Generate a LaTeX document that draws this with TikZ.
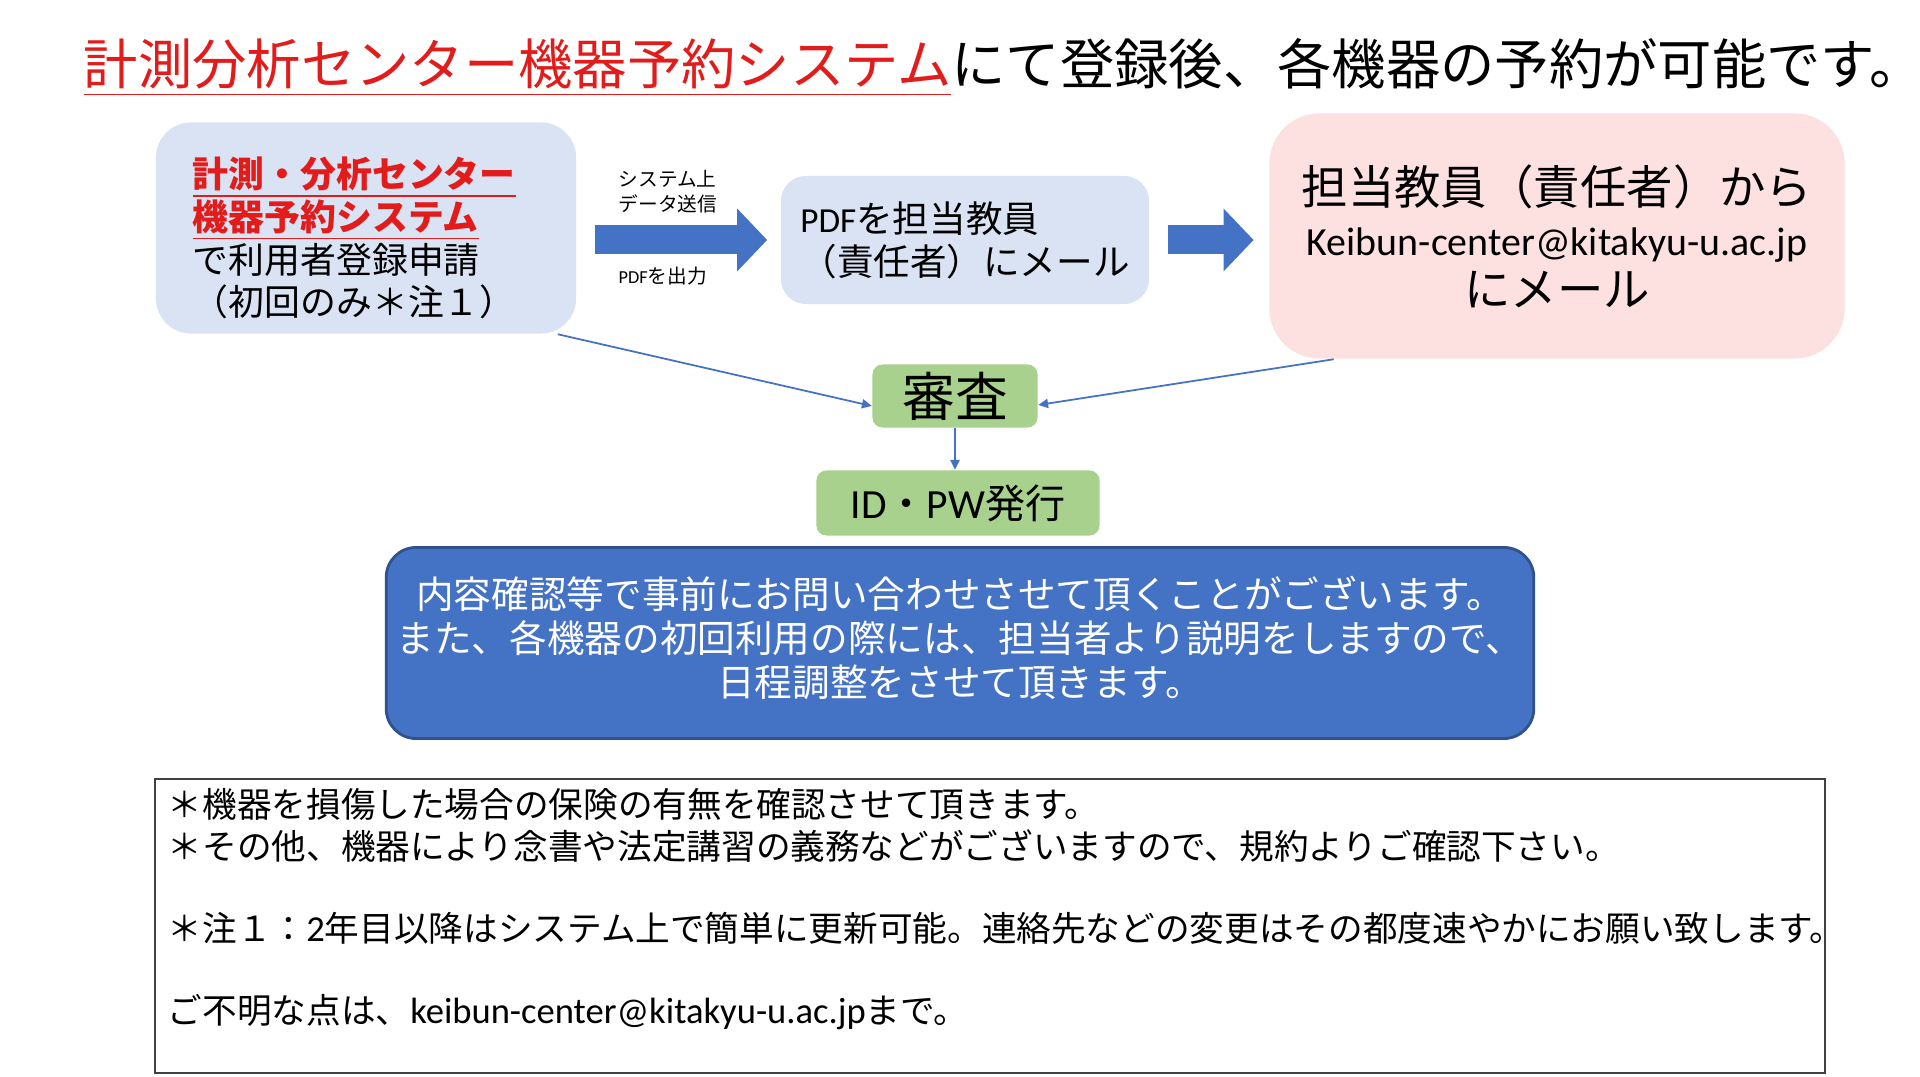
\documentclass[tikz,border=0pt]{standalone}
\usepackage{fontspec}
\setmainfont{Noto Sans CJK JP}
\newfontfamily\latfont{Carlito}
\usetikzlibrary{arrows.meta}

\definecolor{softblue}{HTML}{DAE3F3}
\definecolor{softpink}{HTML}{FDE0E0}
\definecolor{softgreen}{HTML}{A9D18E}
\definecolor{mainblue}{HTML}{4472C4}
\definecolor{edgeblue}{HTML}{2F528F}
\definecolor{titlered}{HTML}{E21B1B}

\newcommand*{\lat}[2]{{\fontsize{#1}{#1}\latfont #2}}
\newcommand*{\fs}[2]{\fontsize{#1}{#2}\selectfont}

\newcommand*{\pgw}{1920}
\newcommand*{\pgh}{1077}

\begin{document}
\begin{tikzpicture}
[
	x=0.01cm,
	y=-0.01cm,
	softbox/.style={fill=softblue,rounded corners=0.35cm,inner sep=0pt,align=left},
	pinkbox/.style={fill=softpink,rounded corners=0.5cm,inner sep=0pt,align=center},
	greenbox/.style={fill=softgreen,rounded corners=0.1cm,inner sep=0pt},
	fatarrow/.style={mainblue,line width=0.29cm,-{Triangle[length=0.3cm,width=0.61cm]}},
	thinarrow/.style={mainblue,line width=0.5pt,-{Triangle[length=2.8pt,width=2.6pt]}},
	smalllabel/.style={inner sep=0pt,align=left,font={\fs{5.6}{7.1}}}
]

	\useasboundingbox (0,0) rectangle (\pgw,\pgh);

	% title
	\node[anchor=base west,inner sep=0pt] (title) at (83,85)
		{\fs{15.45}{18}\textcolor{titlered}{\underline{計測分析センター機器予約システム}}にて登録後、各機器の予約が可能です。};

	% top row
	\node[softbox,minimum width=4.2cm,minimum height=2.11cm] (reg) at (366,228) {};
	\node[inner sep=0pt,align=left,text width=3.46cm,font={\fs{10.2}{12.2}}] (regtext) at ([yshift=-0.1cm]reg.center)
		{\textcolor{titlered}{\bfseries\underline{計測・分析センター}}\\
		 \textcolor{titlered}{\bfseries\underline{機器予約システム}}\\
		 で利用者登録申請\\
		 （初回のみ＊注１）};
	\node[softbox,rounded corners=0.25cm,minimum width=3.68cm,minimum height=1.28cm,font={\fs{10.4}{12.2}}] (pdf) at (965,240)
		{\lat{10}{PDF}を担当教員\\（責任者）にメール};
	\node[pinkbox,minimum width=5.75cm,minimum height=2.45cm,font={\fs{13.2}{14.5}}] (mail) at (1557,236)
		{担当教員（責任者）から\\\lat{11.35}{Keibun-center@kitakyu-u.ac.jp}\\にメール};

	\draw[fatarrow,shorten <=0.18cm,shorten >=0.13cm] (reg.east |- pdf.west) -- (pdf.west);
	\draw[fatarrow,shorten <=0.18cm,shorten >=0.15cm] (pdf.east) -- (pdf.east -| mail.west);
	\node[smalllabel,anchor=west] (sent) at (618,192) {システム上\\データ送信};
	\node[smalllabel,anchor=west] (out) at (618,276) {\lat{5.2}{PDF}を出力};

	% review
	\node[greenbox,minimum width=1.65cm,minimum height=0.63cm,font={\fs{15}{18}}] (exam) at (955,396) {審査};
	\node[greenbox,minimum width=2.83cm,minimum height=0.65cm,font={\fs{11.4}{14}}] (id) at (958,503) {\lat{11.8}{ID}・\lat{11.8}{PW}発行};

	\draw[thinarrow] ([xshift=-0.19cm]reg.south east) -- ([yshift=-0.1cm]exam.west);
	\draw[thinarrow] ([xshift=0.65cm]mail.south west) -- ([yshift=-0.09cm]exam.east);
	\draw[thinarrow] (exam.south) -- (exam.south |- id.north);

	% notice
	\node[fill=mainblue,draw=edgeblue,line width=0.8pt,rounded corners=0.3cm,minimum width=11.47cm,minimum height=1.91cm] (info) at (960,643) {};
	\node[inner sep=0pt,text=white,align=center,font={\fs{10.7}{12.5}}] (infotext) at ([yshift=0.05cm]info.center)
		{内容確認等で事前にお問い合わせさせて頂くことがございます。\\
		 また、各機器の初回利用の際には、担当者より説明をしますので、\\
		 日程調整をさせて頂きます。};

	% notes
	\node[draw=black!75,line width=0.5pt,inner sep=0pt,minimum width=16.69cm,minimum height=2.94cm] (frame) at (990,926) {};
	\node[anchor=north west,inner sep=0pt,align=left,font={\fs{9.85}{11.7}}] (notes) at ([xshift=0.13cm,yshift=-0.1cm]frame.north west)
		{＊機器を損傷した場合の保険の有無を確認させて頂きます。\\
		 ＊その他、機器により念書や法定講習の義務などがございますので、規約よりご確認下さい。\\[11.7pt]
		 ＊注１：\lat{10.4}{2}年目以降はシステム上で簡単に更新可能。連絡先などの変更はその都度速やかにお願い致します。\\[11.7pt]
		 ご不明な点は、\lat{10.4}{keibun-center@kitakyu-u.ac.jp}まで。};

\end{tikzpicture}
\end{document}
